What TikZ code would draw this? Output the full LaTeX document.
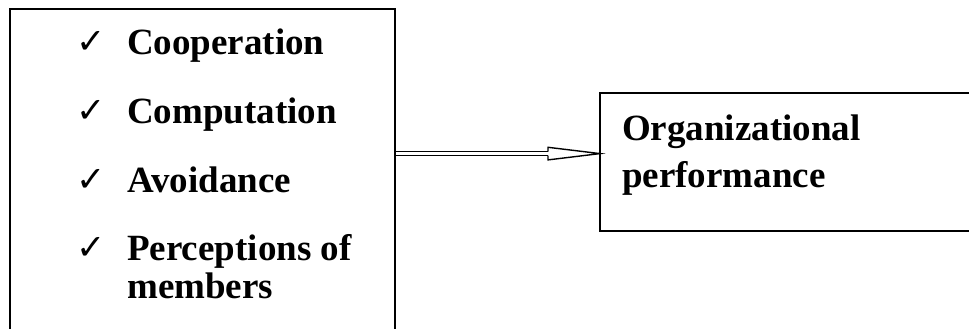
\documentclass[tikz,border=0pt]{standalone}
\usepackage{fontspec}
\setmainfont{Liberation Serif}
\newfontfamily\symfont{DejaVu Sans}
\begin{document}
\begin{tikzpicture}[x=1pt,y=-1pt,
  boxstyle/.style={draw, line width=1.8pt, inner sep=0pt, outer sep=0pt},
  itemtext/.style={anchor=base west, inner sep=0pt, font=\bfseries\fontsize{37}{39}\selectfont},
  checkmk/.style={anchor=base west, inner sep=0pt, font=\symfont\fontsize{35}{37}\selectfont},
  arrline/.style={line width=1.4pt}]
\useasboundingbox (0,0) rectangle (969,329);
\node[boxstyle, minimum width=385pt, minimum height=340pt, anchor=north west] (L) at (10,9) {};
\node[boxstyle, minimum width=380pt, minimum height=138pt, anchor=north west] (R) at (600,93) {};
% items
\node[checkmk] (c1) at (76,54) {✓};
\node[itemtext] (t1) at (127,55) {Cooperation};
\node[checkmk] (c2) at (76,122) {✓};
\node[itemtext] (t2) at (127,123) {Computation};
\node[checkmk] (c3) at (76,191) {✓};
\node[itemtext] (t3) at (127,192) {Avoidance};
\node[checkmk] (c4) at (76,259) {✓};
\node[itemtext] (t4) at (127,260) {Perceptions of};
\node[itemtext] (t5) at (127,298) {members};
\node[itemtext] (o1) at (622,140) {Organizational};
\node[itemtext] (o2) at (622,187) {performance};
% arrow
\coordinate (as) at (L.east |- 0,153.6);
\coordinate (ae) at (R.west |- 0,153.6);
\coordinate (ab) at (548,153.6);
\draw[arrline] ([yshift=-2.1pt]as) -- ([yshift=-2.1pt]ab);
\draw[arrline] ([yshift=2.1pt]as) -- ([yshift=2.1pt]ab);
\draw[arrline, line join=miter] ([yshift=-2.1pt]ab) -- ([yshift=-6.3pt]ab) -- (ae) -- ([yshift=6.3pt]ab) -- ([yshift=2.1pt]ab);
\end{tikzpicture}
\end{document}
